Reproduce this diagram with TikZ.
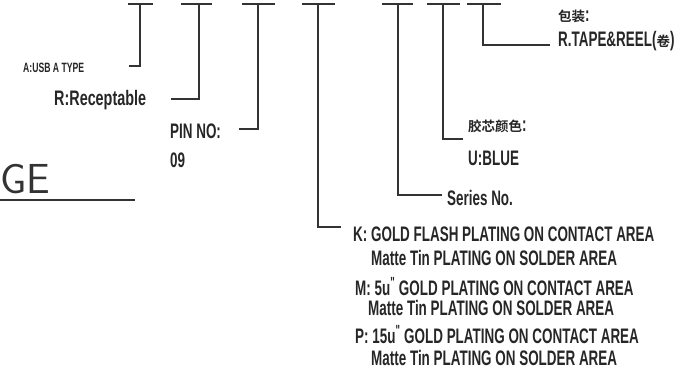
\documentclass[tikz,border=0pt]{standalone}
\usepackage{fontspec}
\newfontfamily\cadfont{Liberation Sans}[FakeStretch=0.64, UprightFont=*-Bold]
\newfontfamily\cjk{Noto Sans CJK SC}[UprightFont=* Bold]
\usetikzlibrary{positioning}

\tikzset{
    tee/.style={line width=1.4pt, draw=black!80},
    lead/.style={line width=1.4pt, draw=black!80},
    lbl/.style={anchor=base west, inner sep=0pt, text=black!85,
        font=\cadfont\fontsize{21}{23}\selectfont},
    small lbl/.style={lbl, font=\cadfont\fontsize{13.5}{15}\selectfont},
}
\newcommand{\cnsize}{\cjk\fontsize{13.5}{15}\selectfont}

\begin{document}
\begin{tikzpicture}[x=1pt, y=-1pt]
    \useasboundingbox (0,0) rectangle (690,369);
    % part number fields
    \foreach \n/\x/\l/\r in {1/140/128/153, 2/199/181/212, 3/258/242/275,
        4/318/302/335, 5/398/382/413, 6/443/427/460, 7/483/467/501} {
        \coordinate (t\n) at (\x,4);
        \draw[tee] (\l,4) -- (\r,4);
    }
    % labels
    \node[small lbl] (usb) at (23,73) {A:USB A TYPE};
    \node[lbl] (rec) at (54,105) {\scalebox{1.07}[1]{R:Receptable}};
    \node[lbl] (pin) at (170,138) {PIN NO:};
    \node[lbl] (pinval) at (170,167) {09};
    \node[lbl] (plk) at (353,241) {K:\ GOLD FLASH PLATING ON CONTACT AREA};
    \node[lbl] (plk2) at (371,265) {Matte Tin PLATING ON SOLDER AREA};
    \node[lbl] (plm) at (355,295) {M:\ 5u\textsuperscript{"} GOLD PLATING ON CONTACT AREA};
    \node[lbl] (plm2) at (368,315) {Matte Tin PLATING ON SOLDER AREA};
    \node[lbl] (plp) at (355,343) {P:\ 15u\textsuperscript{"} GOLD PLATING ON CONTACT AREA};
    \node[lbl] (plp2) at (371,365) {Matte Tin PLATING ON SOLDER AREA};
    \node[lbl] (series) at (447,205) {Series No.};
    \node[lbl] (color) at (468,131) {{\cnsize 胶芯颜色}:};
    \node[lbl] (blue) at (468,165) {U:BLUE};
    \node[lbl] (pack) at (558,22) {{\cnsize 包装}:};
    \node[lbl] (tape) at (558,47) {R.TAPE\&REEL({\cnsize 卷})};
    % leader ends
    \coordinate (e1) at (129,66);
    \coordinate (e2) at (171,99);
    \coordinate (e3) at (239,129);
    \coordinate (e4) at (341,227);
    \coordinate (e5) at (442,195);
    \coordinate (e6) at (463,139);
    \coordinate (e7) at (550,45);
    \foreach \n in {1,...,7} {
        \draw[lead] (t\n) |- (e\n);
    }
    % title stub
    \node[anchor=base west, inner sep=0pt, text=black!80,
        font=\sffamily\fontsize{42}{42}\selectfont] (title) at (0,193) {GE};
    \coordinate (u1) at (0,200);
    \coordinate (u2) at (135,200);
    \draw[line width=1.6pt, black!80] (u1) -- (u2);
\end{tikzpicture}
\end{document}
